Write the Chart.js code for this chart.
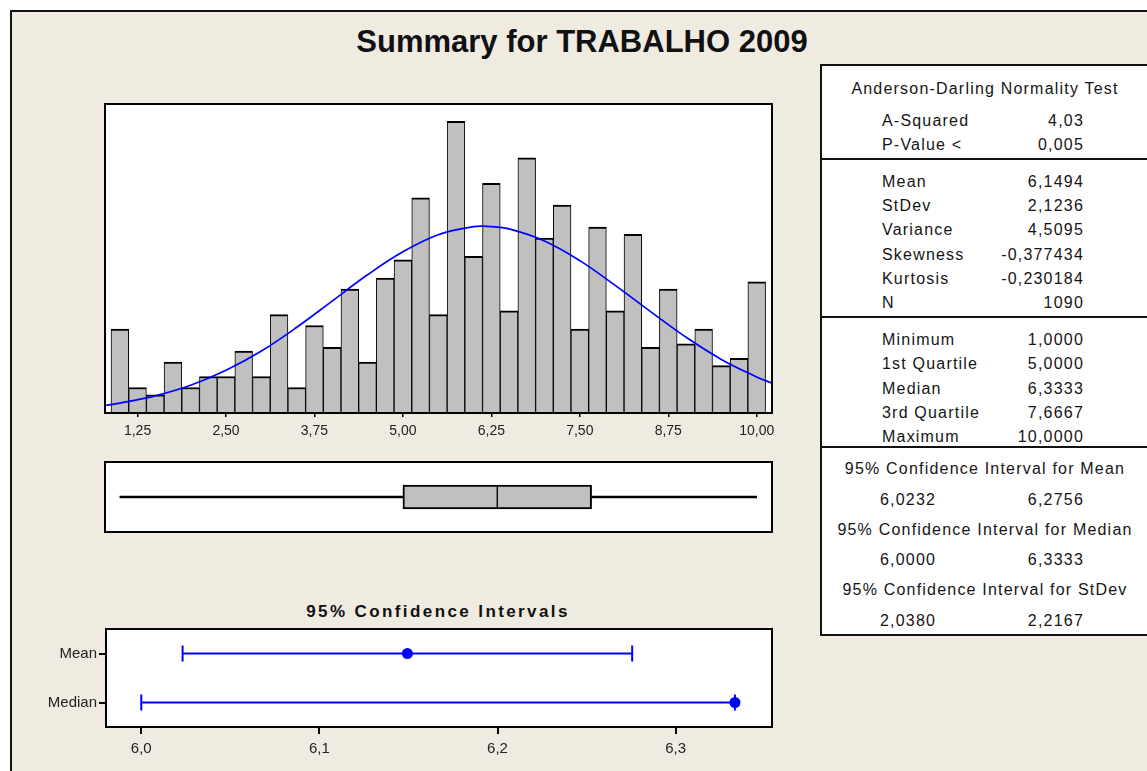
<!DOCTYPE html>
<html>
<head>
<meta charset="utf-8">
<title>Summary for TRABALHO 2009</title>
<script src="https://cdn.jsdelivr.net/npm/chart.js@4.4.1/dist/chart.umd.min.js"></script>
<style>
  html, body { margin: 0; padding: 0; background: #fff; }
  body { width: 1147px; height: 771px; position: relative; overflow: hidden;
         font-family: 'Liberation Sans', Arial, sans-serif; color: #111; }
  #sheet { position: absolute; left: 10px; top: 10px; width: 1200px; height: 800px;
           background: #efebe1; border-left: 2px solid #111; border-top: 2px solid #111; }
  #title { position: absolute; left: 0; top: 24px; width: 1164px; text-align: center;
           font-size: 31px; line-height: 36px; font-weight: bold; }
  #ciTitle { position: absolute; left: 238px; top: 601px; width: 400px; text-align: center;
             font-size: 17px; line-height: 22px; font-weight: bold; letter-spacing: 2.4px; }
  #stats { position: absolute; left: 820px; top: 64px; width: 400px; height: 572px;
           box-sizing: border-box; background: #fff; border: 2px solid #111; }
  .rule { position: absolute; left: 820px; width: 400px; height: 2px; background: #111; }
  .txt { position: absolute; height: 20px; line-height: 20px; font-size: 16px;
         letter-spacing: 1.2px; white-space: nowrap; color: #151515; }
  canvas { position: absolute; }
</style>
</head>
<body>
<div id="sheet"></div>
<div id="title">Summary for TRABALHO 2009</div>
<div id="stats"></div>
<div id="ciTitle">95% Confidence Intervals</div>
<canvas id="hist" style="left:95px; top:94px; width:687px; height:350px;" width="687" height="350"></canvas>
<canvas id="box" style="left:95px; top:452px; width:687px; height:90px;" width="687" height="90"></canvas>
<canvas id="ci" style="left:20px; top:618px; width:762px; height:153px;" width="762" height="153"></canvas>
<script>
const FONT = "'Liberation Sans', Arial, sans-serif";
const BLUE = '#0000ff';

// histogram bins (width 0.25) and counts, N = 1090
const binCenters = [1.00, 1.25, 1.50, 1.75, 2.00, 2.25, 2.50, 2.75, 3.00, 3.25, 3.50, 3.75, 4.00,
  4.25, 4.50, 4.75, 5.00, 5.25, 5.50, 5.75, 6.00, 6.25, 6.50, 6.75, 7.00, 7.25, 7.50, 7.75, 8.00,
  8.25, 8.50, 8.75, 9.00, 9.25, 9.50, 9.75, 10.00];
const binCounts = [23, 7, 5, 14, 7, 10, 10, 17, 10, 27, 7, 24, 18, 34, 14, 37, 42, 59, 27, 80,
  43, 63, 28, 70, 48, 57, 23, 51, 28, 49, 18, 34, 19, 23, 13, 15, 36];

// fitted normal curve, in counts per bin
const curveX = [0.79, 1.0, 1.5, 2.0, 2.5, 3.0, 3.5, 4.0, 4.5, 5.0, 5.5, 6.0, 6.25, 6.5, 7.0, 7.5,
  8.0, 8.5, 9.0, 9.5, 10.0, 10.216];
const curveY = [2.1, 2.7, 4.7, 7.6, 11.7, 17.0, 23.5, 30.7, 37.9, 44.2, 48.9, 51.1, 51.1, 50.5,
  47.2, 41.8, 35.0, 27.8, 20.8, 14.7, 9.9, 8.2];

const histTicks = [1.25, 2.5, 3.75, 5.0, 6.25, 7.5, 8.75, 10.0];
const histRange = [0.79, 10.216];

// normality test
const adLabels = ['A-Squared', 'P-Value <'];
const adValues = ['4,03', '0,005'];

// moments
const momentLabels = ['Mean', 'StDev', 'Variance', 'Skewness', 'Kurtosis', 'N'];
const momentValues = [6.1494, 2.1236, 4.5095, -0.377434, -0.230184, 1090];
const momentDigits = [4, 4, 4, 6, 6, 0];

// five-number summary: min, Q1, median, Q3, max
const quartileLabels = ['Minimum', '1st Quartile', 'Median', '3rd Quartile', 'Maximum'];
const boxSummary = [1.0, 5.0, 6.3333, 7.6667, 10.0];

// 95% confidence intervals
const ciHeaders = ['95% Confidence Interval for Mean', '95% Confidence Interval for Median',
  '95% Confidence Interval for StDev'];
const ciBounds = [[6.0232, 6.2756], [6.0000, 6.3333], [2.0380, 2.2167]];
const ciRows = ['Mean', 'Median'];
const ciTicks = [6.0, 6.1, 6.2, 6.3];
const ciRange = [5.9802, 6.3541];

const fmt = (v, d) => v.toFixed(d).replace('.', ',');

// white plot area with a black frame around it
const panelFrame = {
  id: 'panelFrame',
  beforeDraw(chart) {
    const { ctx, chartArea: a } = chart;
    ctx.save();
    ctx.fillStyle = '#fff';
    ctx.fillRect(a.left, a.top, a.width, a.height);
    ctx.restore();
  },
  afterDraw(chart) {
    const { ctx, chartArea: a } = chart;
    ctx.save();
    ctx.strokeStyle = '#000';
    ctx.lineWidth = 2;
    ctx.strokeRect(a.left, a.top, a.width, a.height);
    ctx.restore();
  },
};

const quiet = { legend: { display: false }, tooltip: { enabled: false } };

new Chart(document.getElementById('hist'), {
  type: 'bar',
  data: {
    datasets: [
      {
        type: 'line',
        data: curveX.map((x, i) => ({ x, y: curveY[i] })),
        borderColor: BLUE,
        borderWidth: 1.7,
        pointRadius: 0,
        tension: 0.4,
        order: 0,
      },
      {
        data: binCenters.map((x, i) => ({ x, y: binCounts[i] })),
        backgroundColor: '#c0c0c0',
        borderColor: '#000',
        borderWidth: { top: 2, left: 1, right: 1, bottom: 0 },
        barPercentage: 1,
        categoryPercentage: 1,
        order: 1,
      },
    ],
  },
  plugins: [panelFrame],
  options: {
    responsive: false,
    animation: false,
    layout: { padding: { left: 10, right: 10, top: 10, bottom: 0 } },
    plugins: quiet,
    scales: {
      x: {
        type: 'linear',
        min: histRange[0],
        max: histRange[1],
        offset: false,
        afterBuildTicks: (s) => { s.ticks = histTicks.map((v) => ({ value: v })); },
        afterFit: (s) => { s.height = 31; },
        border: { display: false },
        grid: { offset: false, drawOnChartArea: false, drawTicks: true, tickLength: 4, color: '#000', lineWidth: 1.5 },
        ticks: {
          font: { family: FONT, size: 14 }, color: '#222', padding: 6,
          maxRotation: 0, autoSkip: false,
          callback: (v) => fmt(v, 2),
        },
      },
      y: { display: false, min: 0, max: 84.75 },
    },
  },
});

// box plot: whiskers and the two halves of the box as floating bars
const q = boxSummary;
new Chart(document.getElementById('box'), {
  type: 'bar',
  data: {
    labels: [''],
    datasets: [
      { data: [[q[0], q[1]]], backgroundColor: '#000', borderWidth: 0, barThickness: 2, grouped: false },
      { data: [[q[3], q[4]]], backgroundColor: '#000', borderWidth: 0, barThickness: 2, grouped: false },
      {
        data: [[q[1], q[2]]], backgroundColor: '#c0c0c0', borderColor: '#000', borderSkipped: false,
        borderWidth: { top: 2, bottom: 2, left: 2, right: 1 }, barThickness: 24, grouped: false,
      },
      {
        data: [[q[2], q[3]]], backgroundColor: '#c0c0c0', borderColor: '#000', borderSkipped: false,
        borderWidth: { top: 2, bottom: 2, left: 1, right: 2 }, barThickness: 24, grouped: false,
      },
    ],
  },
  plugins: [panelFrame],
  options: {
    indexAxis: 'y',
    responsive: false,
    animation: false,
    layout: { padding: 10 },
    plugins: quiet,
    scales: {
      x: { type: 'linear', min: histRange[0], max: histRange[1], display: false },
      y: { display: false },
    },
  },
});

const interval = (lo, hi, row) => ({
  data: [{ x: lo, y: row }, { x: hi, y: row }],
  borderColor: BLUE,
  borderWidth: 2,
  pointStyle: 'line',
  pointRadius: 8,
  pointRotation: 90,
  pointBorderColor: BLUE,
  pointBorderWidth: 2,
});

new Chart(document.getElementById('ci'), {
  type: 'line',
  data: {
    datasets: [
      interval(ciBounds[0][0], ciBounds[0][1], ciRows[0]),
      interval(ciBounds[1][0], ciBounds[1][1], ciRows[1]),
      {
        data: [{ x: momentValues[0], y: ciRows[0] }, { x: boxSummary[2], y: ciRows[1] }],
        showLine: false,
        pointStyle: 'circle',
        pointRadius: 5.5,
        pointBackgroundColor: BLUE,
        pointBorderColor: BLUE,
        pointBorderWidth: 0,
      },
    ],
  },
  plugins: [panelFrame],
  options: {
    responsive: false,
    animation: false,
    layout: { padding: { left: 0, right: 10, top: 10, bottom: 0 } },
    plugins: quiet,
    scales: {
      x: {
        type: 'linear',
        min: ciRange[0],
        max: ciRange[1],
        afterBuildTicks: (s) => { s.ticks = ciTicks.map((v) => ({ value: v })); },
        afterFit: (s) => { s.height = 44; },
        border: { display: false },
        grid: { drawOnChartArea: false, drawTicks: true, tickLength: 7, color: '#000', lineWidth: 2 },
        ticks: {
          font: { family: FONT, size: 15 }, color: '#222', padding: 6,
          maxRotation: 0, autoSkip: false,
          callback: (v) => fmt(v, 1),
        },
      },
      y: {
        type: 'category',
        labels: ciRows,
        offset: true,
        afterFit: (s) => { s.width = 86; },
        border: { display: false },
        grid: { offset: false, drawOnChartArea: false, drawTicks: true, tickLength: 7, color: '#000', lineWidth: 2 },
        ticks: { font: { family: FONT, size: 15 }, color: '#222', padding: 2 },
      },
    },
  },
});

// statistics table on the right
function addText(text, x, y, align) {
  const el = document.createElement('div');
  el.className = 'txt';
  el.textContent = text;
  el.style.top = (y - 10) + 'px';
  if (align === 'left') {
    el.style.left = x + 'px';
  } else if (align === 'right') {
    el.style.left = (x - 300) + 'px';
    el.style.width = '300px';
    el.style.textAlign = 'right';
  } else {
    el.style.left = (x - 200) + 'px';
    el.style.width = '400px';
    el.style.textAlign = 'center';
  }
  document.body.appendChild(el);
}

function addRule(y) {
  const el = document.createElement('div');
  el.className = 'rule';
  el.style.top = (y - 1) + 'px';
  document.body.appendChild(el);
}

const colLabel = 882, colValue = 1084, colMid = 985;

addText('Anderson-Darling Normality Test', colMid, 89, 'center');
adLabels.forEach((l, i) => {
  addText(l, colLabel, 121 + i * 24.3, 'left');
  addText(adValues[i], colValue, 121 + i * 24.3, 'right');
});
addRule(159);

momentLabels.forEach((l, i) => {
  addText(l, colLabel, 182 + i * 24.2, 'left');
  addText(fmt(momentValues[i], momentDigits[i]), colValue, 182 + i * 24.2, 'right');
});
addRule(317);

quartileLabels.forEach((l, i) => {
  addText(l, colLabel, 340 + i * 24.3, 'left');
  addText(fmt(boxSummary[i], 4), colValue, 340 + i * 24.3, 'right');
});
addRule(447);

ciHeaders.forEach((h, i) => {
  const y = 469 + i * 60.5;
  addText(h, colMid, y, 'center');
  addText(fmt(ciBounds[i][0], 4), 880, y + 30.5, 'left');
  addText(fmt(ciBounds[i][1], 4), colValue, y + 30.5, 'right');
});
</script>
</body>
</html>
